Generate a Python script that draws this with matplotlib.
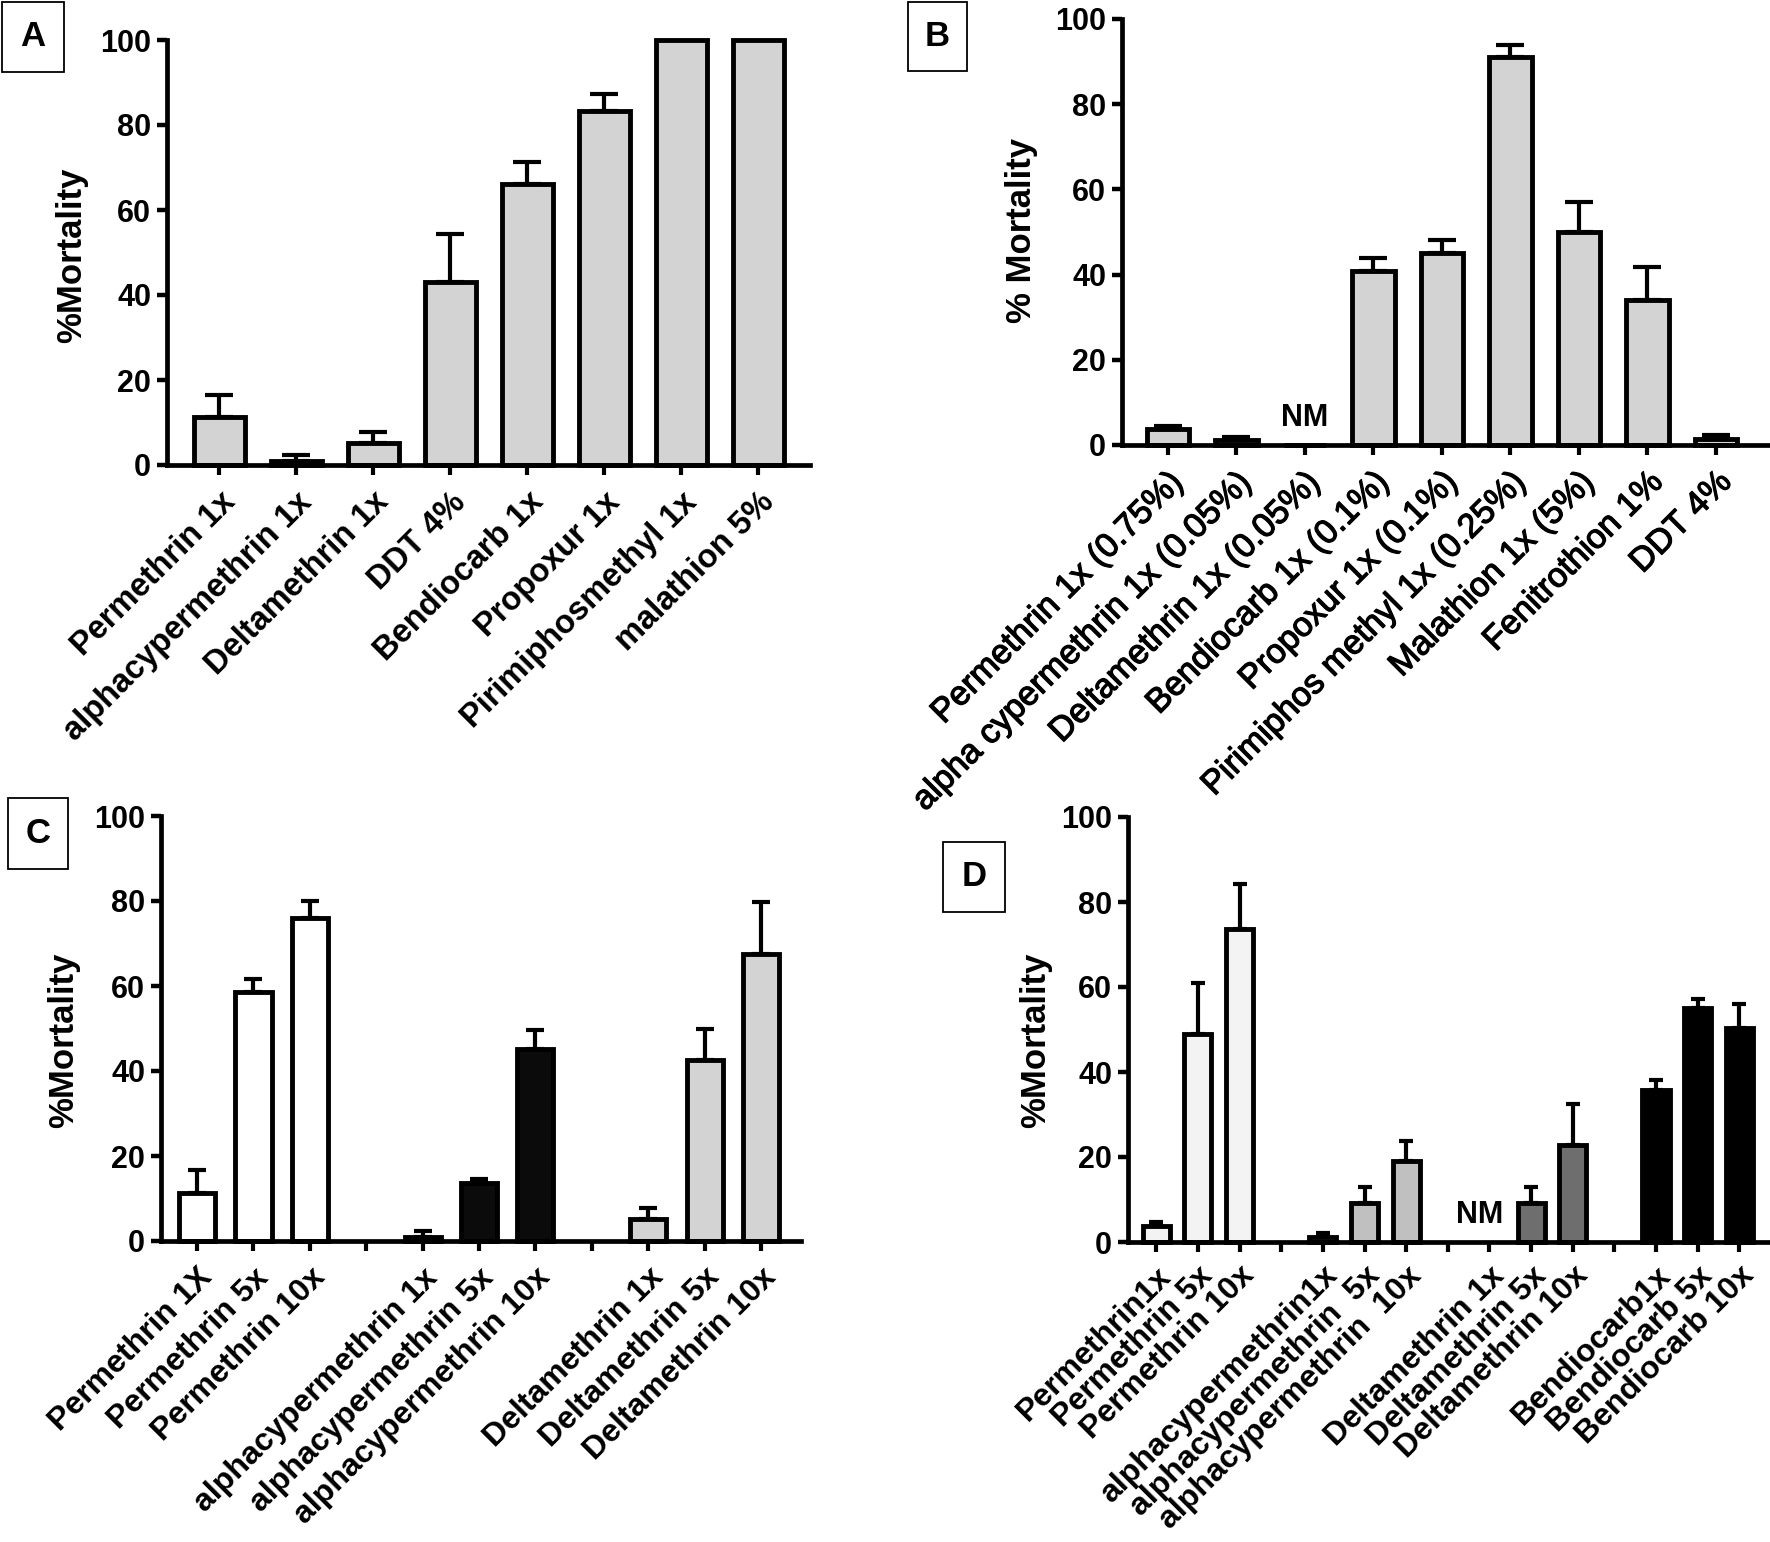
import numpy as np
import matplotlib
matplotlib.use("Agg")
import matplotlib.pyplot as plt
from matplotlib.patches import Rectangle
import matplotlib.patheffects as pe

plt.rcParams['font.family'] = ['Liberation Sans', 'DejaVu Sans']

# ---------------- data ----------------
A_labels = ["Permethrin 1x", "alphacypermethrin 1x", "Deltamethrin 1x", "DDT 4%",
            "Bendiocarb 1x", "Propoxur 1x", "Pirimiphosmethyl 1x", "malathion 5%"]
A_vals = [11.4, 0.9, 5.1, 43.1, 66.1, 83.3, 100, 100]
A_err = [5.1, 1.5, 2.6, 11.2, 5.3, 3.9, 0, 0]

B_labels = ["Permethrin 1x (0.75%)", "alpha cypermethrin 1x (0.05%)", "Deltamethrin 1x (0.05%)",
            "Bendiocarb 1x (0.1%)", "Propoxur 1x (0.1%)", "Pirimiphos methyl 1x (0.25%)",
            "Malathion 1x (5%)", "Fenitrothion 1%", "DDT 4%"]
B_vals = [3.8, 1.2, 0, 40.9, 45.0, 91.0, 49.9, 34.0, 1.4]
B_err = [0.6, 0.6, 0, 2.9, 3.1, 2.8, 7.2, 7.7, 1.0]
B_nm = [False, False, True, False, False, False, False, False, False]

C_labels = [["Permethrin 1X", "Permethrin 5x", "Permethrin 10x"],
            ["alphacypermethrin 1x", "alphacypermethrin 5x", "alphacypermethrin 10x"],
            ["Deltamethrin 1x", "Deltamethrin 5x", "Deltamethrin 10x"]]
C_vals = [[11.4, 58.6, 75.9], [1.0, 13.7, 45.1], [5.1, 42.7, 67.5]]
C_err = [[5.3, 3.0, 4.1], [1.4, 1.0, 4.5], [2.6, 7.3, 12.2]]
C_colors = ["#ffffff", "#0b0b0b", "#d3d3d3"]

D_labels = [["Permethrin1x", "Permethrin 5x", "Permethrin 10x"],
            ["alphacypermethrin1x", "alphacypermethrin  5x", "alphacypermethrin  10x"],
            ["Deltamethrin 1x", "Deltamethrin 5x", "Deltamethrin 10x"],
            ["Bendiocarb1x", "Bendiocarb 5x", "Bendiocarb 10x"]]
D_vals = [[3.8, 49.0, 73.6], [1.2, 9.2, 19.0], [0, 9.2, 22.8], [35.7, 55.1, 50.4]]
D_err = [[0.8, 11.9, 10.7], [0.9, 3.7, 4.7], [0, 3.7, 9.6], [2.5, 2.0, 5.6]]
D_nm = [[False, False, False], [False, False, False], [True, False, False], [False, False, False]]
D_colors = ["#f3f3f3", "#c0c0c0", "#6e6e6e", "#000000"]

y_ticks = [0, 20, 40, 60, 80, 100]

# ---------------- figure ----------------
W, H = 1770, 1542
fig = plt.figure(figsize=(W / 100, H / 100), dpi=100)


def px_axes(x0, x1, ytop, ybot):
    return fig.add_axes([x0 / W, 1 - ybot / H, (x1 - x0) / W, (ybot - ytop) / H])


def style(ax, xlim, ticklen=7.5, xpad=8):
    ax.set_ylim(0, 100)
    ax.set_xlim(*xlim)
    for s in ["top", "right"]:
        ax.spines[s].set_visible(False)
    for s in ["left", "bottom"]:
        ax.spines[s].set_linewidth(3.4)
    ax.set_yticks(y_ticks)
    ax.set_yticklabels([str(t) for t in y_ticks], fontsize=22, fontweight='bold')
    ax.tick_params(axis='y', length=7.5, width=3.2, pad=4)
    ax.tick_params(axis='x', length=ticklen, width=3.0, pad=xpad)
    ax.patch.set_alpha(0)


def draw_bars(ax, x, vals, err, colors, width, capsize):
    ax.bar(x, vals, width=width, color=colors, edgecolor='black', linewidth=3.5,
           zorder=2, clip_on=False)
    x = np.asarray(x, float)
    vals = np.asarray(vals, float)
    err = np.asarray(err, float)
    m = err > 0
    ax.errorbar(x[m], vals[m], yerr=[np.zeros(m.sum()), err[m]], fmt='none',
                ecolor='black', elinewidth=3.0, capsize=capsize, capthick=3.0, zorder=3)


def box_label(letter, x0, y0, x1, y1):
    fig.add_artist(Rectangle((x0 / W, 1 - y1 / H), (x1 - x0) / W, (y1 - y0) / H,
                             transform=fig.transFigure, fill=False, edgecolor='black',
                             linewidth=1.3))
    fig.text((x0 + x1) / 2 / W, 1 - (y0 + y1) / 2 / H, letter, fontsize=25,
             fontweight='bold', ha='center', va='center')


# ---- A ----
axA = px_axes(167, 810, 40, 465)
xA = np.arange(len(A_vals))
draw_bars(axA, xA, A_vals, A_err, "#d3d3d3", 0.66, 10)
style(axA, (-0.68, len(A_vals) - 1 + 0.67))
axA.set_xticks(xA)
axA.set_xticklabels(A_labels, rotation=45, ha='right', rotation_mode='anchor',
                    fontsize=23.5, fontweight='bold')
fig.text(72 / W, 1 - 255 / H, "%Mortality", rotation=90, fontsize=25, fontweight='bold',
         ha='center', va='center')
box_label("A", 2, 2, 64, 72)

# ---- B ----
axB = px_axes(1122, 1768, 19, 445)
xB = np.arange(len(B_vals))
draw_bars(axB, xB, B_vals, B_err, "#d3d3d3", 0.62, 10)
style(axB, (-0.67, len(B_vals) - 1 + 0.76))
axB.set_xticks(xB)
axB.set_xticklabels(B_labels, rotation=45, ha='right', rotation_mode='anchor',
                    fontsize=24.5)
for t in axB.get_xticklabels():
    t.set_path_effects([pe.withStroke(linewidth=0.9, foreground='black')])
for xi, nm in zip(xB, B_nm):
    if nm:
        axB.text(xi, 6.3, "NM", ha='center', va='center', fontsize=22, fontweight='bold')
fig.text(1021 / W, 1 - 230 / H, "% Mortality", rotation=90, fontsize=25,
         fontweight='bold', ha='center', va='center')
box_label("B", 908, 2, 967, 71)

# ---- C ----
axC = px_axes(161, 801, 816, 1241)
c_lab = []
for g, grp in enumerate(C_vals):
    pos = [4 * g + i for i in range(len(grp))]
    draw_bars(axC, pos, grp, C_err[g], C_colors[g], 0.64, 6.8)
c_ticks = list(range(4 * len(C_vals) - 1))
for t in c_ticks:
    g, i = divmod(t, 4)
    c_lab.append(C_labels[g][i] if i < 3 else "")
style(axC, (-0.64, c_ticks[-1] + 0.71))
axC.set_xticks(c_ticks)
axC.set_xticklabels(c_lab, rotation=45, ha='right', rotation_mode='anchor',
                    fontsize=23, fontweight='bold')
fig.text(64 / W, 1 - 1040 / H, "%Mortality", rotation=90, fontsize=25, fontweight='bold',
         ha='center', va='center')
box_label("C", 8, 798, 68, 869)

# ---- D ----
axD = px_axes(1128, 1768, 817, 1242)
for g, grp in enumerate(D_vals):
    pos = [4 * g + i for i in range(len(grp))]
    keep = [i for i in range(len(grp)) if not D_nm[g][i]]
    draw_bars(axD, [pos[i] for i in keep], [grp[i] for i in keep],
              [D_err[g][i] for i in keep], D_colors[g], 0.65, 4.7)
    for i in range(len(grp)):
        if D_nm[g][i]:
            axD.text(pos[i] - 0.24, 6.4, "NM", ha='center', va='center', fontsize=22,
                     fontweight='bold')
d_ticks = list(range(4 * len(D_vals) - 1))
d_lab = []
for t in d_ticks:
    g, i = divmod(t, 4)
    d_lab.append(D_labels[g][i] if i < 3 else "")
style(axD, (-0.68, d_ticks[-1] + 0.69), xpad=6)
axD.set_xticks(d_ticks)
axD.set_xticklabels(d_lab, rotation=45, ha='right', rotation_mode='anchor',
                    fontsize=23, fontweight='bold')
fig.text(1036 / W, 1 - 1040 / H, "%Mortality", rotation=90, fontsize=25, fontweight='bold',
         ha='center', va='center')
box_label("D", 943, 842, 1005, 912)

fig.savefig("out.png", dpi=100)
